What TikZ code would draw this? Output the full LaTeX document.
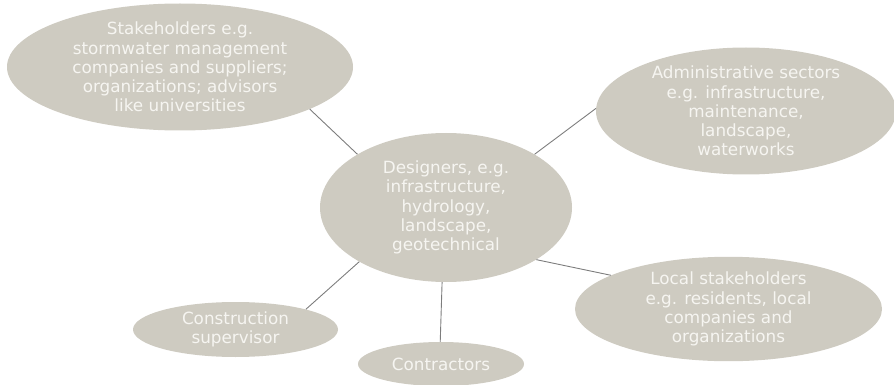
\documentclass[tikz,border=0pt]{standalone}
\usepackage{fontspec}
\setmainfont{DejaVu Sans}
\usetikzlibrary{shapes.geometric}
\definecolor{blobfill}{RGB}{206,203,193}
\definecolor{blobtext}{RGB}{246,245,241}
\definecolor{linkcol}{RGB}{125,125,125}
\tikzset{
  blob/.style={ellipse, fill=blobfill, draw=none, inner sep=0pt, align=center,
    text=blobtext, font=\fontsize{16.8}{19.2}\selectfont},
  link/.style={draw=linkcol, line width=0.9pt}
}
\begin{document}
\begin{tikzpicture}[x=1pt,y=-1pt]
\useasboundingbox (0,0) rectangle (894,385);
\node[blob, minimum width=346pt, minimum height=117pt] (tl) at (180,67)
  {Stakeholders e.g.\\stormwater management\\companies and suppliers;\\organizations; advisors\\like universities};
\node[blob, minimum width=300pt, minimum height=118pt] (adm) at (746,111)
  {Administrative sectors\\e.g. infrastructure,\\maintenance,\\landscape,\\waterworks};
\node[blob, minimum width=252pt, minimum height=149pt] (des) at (446,207.5)
  {Designers, e.g.\\infrastructure,\\hydrology,\\landscape,\\geotechnical};
\node[blob, minimum width=307pt, minimum height=92pt] (loc) at (728.5,309)
  {Local stakeholders\\e.g. residents, local\\companies and\\organizations};
\node[blob, minimum width=205pt, minimum height=55pt] (sup) at (235.5,329.5)
  {Construction\\supervisor};
\node[blob, minimum width=166pt, minimum height=44pt] (con) at (441,364)
  {Contractors};
\draw[link] (des.149) -- (tl.-18);
\draw[link] (des.31.5) -- (adm.179);
\draw[link] (des.-30.5) -- (loc.164);
\draw[link] (des.212) -- (sup.16);
\draw[link] (des.267.7) -- (con.92);
\end{tikzpicture}
\end{document}
